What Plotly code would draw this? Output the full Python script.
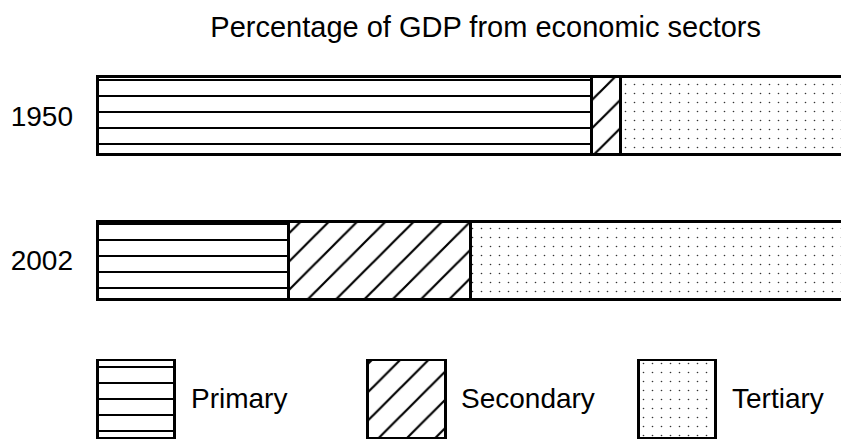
import plotly.graph_objects as go

years = ["1950", "2002"]
sectors = ["Primary", "Secondary", "Tertiary"]
primary = [59.0, 22.8]
secondary = [3.5, 21.7]
tertiary = [37.5, 55.5]
title_text = "Percentage of GDP from economic sectors"

FONT = "Liberation Sans, Arial, sans-serif"
patterns = {
    "Primary": dict(shape="-", size=16, solidity=0.125, fgcolor="black", bgcolor="white", fgopacity=1),
    "Secondary": dict(shape="/", size=20, solidity=0.11, fgcolor="black", bgcolor="white", fgopacity=1),
    "Tertiary": dict(shape=".", size=9, solidity=0.025, fgcolor="#333333", bgcolor="white", fgopacity=1),
}
values = {"Primary": primary, "Secondary": secondary, "Tertiary": tertiary}

fig = go.Figure()
for s in sectors:
    fig.add_trace(go.Bar(
        y=years, x=values[s], orientation="h", name=s, width=0.54,
        marker=dict(color="white", pattern=patterns[s], line=dict(color="black", width=3)),
        showlegend=False, hoverinfo="skip",
    ))

# legend swatches drawn as bars on a secondary axis pair
for s in sectors:
    fig.add_trace(go.Bar(
        x=[s], y=[1], xaxis="x2", yaxis="y2", width=0.288,
        marker=dict(color="white", pattern=patterns[s], line=dict(color="black", width=3)),
        showlegend=False, hoverinfo="skip",
    ))

annotations = []
for s in sectors:
    annotations.append(dict(
        x=sectors.index(s) + 0.144 + 0.052, y=0.5, xref="x2", yref="y2",
        text=s, showarrow=False, xanchor="left", yanchor="middle",
        font=dict(family=FONT, size=28, color="black"),
    ))

fig.update_layout(
    width=841, height=431,
    margin=dict(l=82, r=0, t=0, b=0),
    paper_bgcolor="white", plot_bgcolor="rgba(0,0,0,0)",
    barmode="stack",
    title=dict(text=title_text, x=0.568, xanchor="center", y=0.957, yanchor="middle",
               font=dict(family=FONT, size=29, color="black")),
    xaxis=dict(range=[-0.9, 89.75], visible=False, domain=[0, 1]),
    yaxis=dict(type="category", categoryorder="array", categoryarray=years,
               range=[2.235, -0.747], showgrid=False, zeroline=False, showline=False,
               ticks="", ticklabelstandoff=16, tickfont=dict(family=FONT, size=28, color="black"),
               domain=[0, 1]),
    xaxis2=dict(type="category", categoryorder="array", categoryarray=sectors,
                range=[-0.170, 2.636], visible=False, anchor="y2", domain=[0, 1]),
    yaxis2=dict(range=[-0.0125, 1.0], visible=False, anchor="x2", domain=[0, 80 / 431]),
    annotations=annotations,
    font=dict(family=FONT),
)

fig.write_html("out.html")
